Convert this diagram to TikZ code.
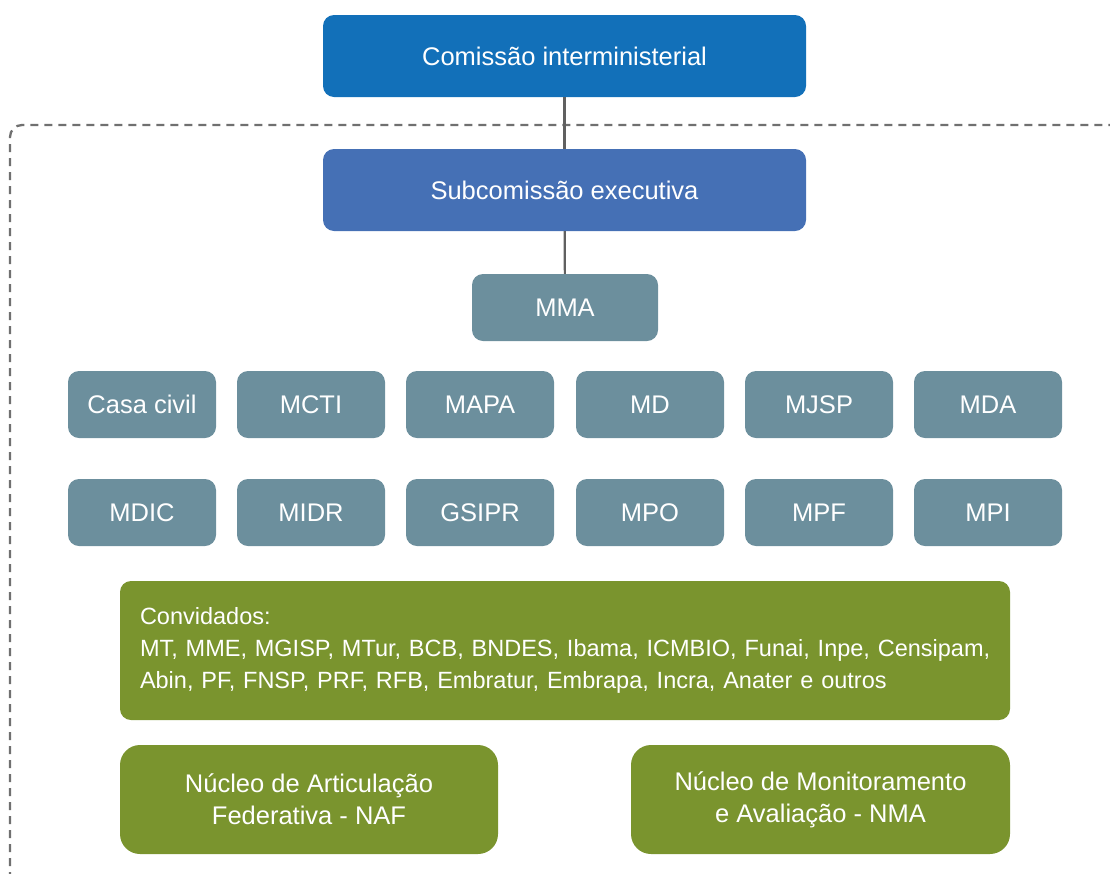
\documentclass[tikz,border=0pt]{standalone}
\usepackage{fontspec}
\setmainfont{Liberation Sans}
\definecolor{cblue}{HTML}{1270B9}
\definecolor{cblue2}{HTML}{4570B5}
\definecolor{cgrey}{HTML}{6C8F9D}
\definecolor{cgreen}{HTML}{7A942E}
\definecolor{cline}{HTML}{606060}
\definecolor{cdash}{HTML}{707070}
\begin{document}
\begin{tikzpicture}[x=1pt,y=-1pt,
  box/.style={fill=#1,text=white,rounded corners=11pt,inner sep=0pt,align=center,
    font=\fontsize{25.5}{32}\selectfont},
  small/.style={box=cgrey,minimum width=148pt,minimum height=67pt},
  big/.style={box=#1,minimum width=483pt,minimum height=82pt},
  nuc/.style={box=cgreen,rounded corners=20pt,minimum width=378pt,minimum height=109pt},
  conn/.style={draw=cline,line width=2.2pt}]
\useasboundingbox (0,0) rectangle (1110,873);
\begin{scope}
\clip (0,0) rectangle (1110,873);
\draw[cdash,line width=2.3pt,dash pattern=on 8pt off 6pt,rounded corners=12pt] (10,950) -- (10,125) -- (1200,125);
\end{scope}
\node[big=cblue] (ci) at (564.5,56) {Comissão interministerial};
\node[big=cblue2] (se) at (564.5,190) {Subcomissão executiva};
\node[small,minimum width=186pt] (mma) at (565,307.5) {MMA};
\draw[conn] (ci) -- (se);
\draw[conn] (se) -- (mma);
\node[small] (cc) at (142,404.5) {Casa civil};
\node[small] (mcti) at (311,404.5) {MCTI};
\node[small] (mapa) at (480,404.5) {MAPA};
\node[small] (md) at (650,404.5) {MD};
\node[small] (mjsp) at (819,404.5) {MJSP};
\node[small] (mda) at (988,404.5) {MDA};
\node[small] (mdic) at (142,512.5) {MDIC};
\node[small] (midr) at (311,512.5) {MIDR};
\node[small] (gsipr) at (480,512.5) {GSIPR};
\node[small] (mpo) at (650,512.5) {MPO};
\node[small] (mpf) at (819,512.5) {MPF};
\node[small] (mpi) at (988,512.5) {MPI};
\node[box=cgreen,minimum width=890pt,minimum height=139pt,align=left,text width=850pt,
  font=\fontsize{23.5}{32}\selectfont] (conv) at (565,650.5)
  {Convidados:\\\makebox[850pt][l]{MT, MME, MGISP, MTur, BCB, BNDES, Ibama, ICMBIO, Funai, Inpe, Censipam,}\\Abin, PF, FNSP, PRF, RFB, Embratur, Embrapa, Incra, Anater e outros};
\node[nuc] (naf) at (309,799.5) {Núcleo de Articulação\\Federativa - NAF};
\node[nuc,minimum width=379pt] (nma) at (820.5,799.5) {Núcleo de Monitoramento\\e Avaliação - NMA};
\end{tikzpicture}
\end{document}
